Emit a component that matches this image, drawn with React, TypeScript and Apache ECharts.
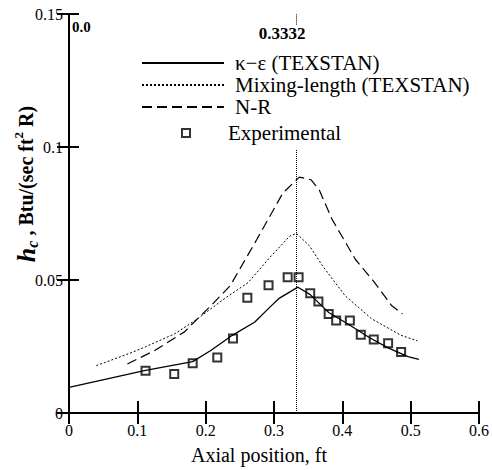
import React, { useEffect, useRef } from "react";
import * as echarts from "echarts";

const FONT = '"Liberation Serif", "Times New Roman", serif';

// k-epsilon (TEXSTAN) - solid line
const kEpsX = [0, 0.112, 0.181, 0.208, 0.239, 0.272, 0.294, 0.308, 0.335, 0.353, 0.38, 0.41, 0.44, 0.467, 0.496, 0.512];
const kEpsY = [0.0096, 0.016, 0.0193, 0.0236, 0.0292, 0.0342, 0.0398, 0.0432, 0.0473, 0.0445, 0.0378, 0.0332, 0.0283, 0.0245, 0.0212, 0.0202];

// Mixing-length (TEXSTAN) - dotted line
const mixX = [0.04, 0.0925, 0.112, 0.155, 0.188, 0.227, 0.262, 0.294, 0.323, 0.333, 0.352, 0.371, 0.404, 0.443, 0.486, 0.51];
const mixY = [0.0178, 0.0228, 0.0249, 0.0298, 0.0354, 0.0429, 0.049, 0.0585, 0.0665, 0.0675, 0.0628, 0.0553, 0.0441, 0.0354, 0.0292, 0.0271];

// N-R - dashed line
const nrX = [0.0855, 0.126, 0.169, 0.188, 0.208, 0.236, 0.275, 0.313, 0.337, 0.354, 0.366, 0.385, 0.419, 0.447, 0.472, 0.488];
const nrY = [0.0184, 0.0236, 0.0305, 0.0354, 0.0404, 0.0479, 0.0653, 0.0827, 0.0887, 0.0877, 0.084, 0.0728, 0.0578, 0.0491, 0.0404, 0.0373];

// Experimental - squares
const expX = [0.112, 0.154, 0.181, 0.217, 0.24, 0.261, 0.292, 0.32, 0.336, 0.353, 0.365, 0.38, 0.391, 0.411, 0.427, 0.446, 0.467, 0.486];
const expY = [0.0159, 0.0147, 0.0187, 0.0209, 0.028, 0.0433, 0.048, 0.051, 0.051, 0.045, 0.0419, 0.0372, 0.0348, 0.0348, 0.0294, 0.0276, 0.0262, 0.0229];

const SERIES_NAMES = ["κ−ε (TEXSTAN)", "Mixing-length (TEXSTAN)", "N-R", "Experimental"];
const MARK_X = 0.3332;
const X_RANGE = [0, 0.6, 0.1];
const Y_RANGE = [0, 0.15, 0.05];

const pairs = (xs: number[], ys: number[]) => xs.map((x, i) => [x, ys[i]]);

export default function App() {
  const ref = useRef<HTMLDivElement>(null);
  useEffect(() => {
    if (!ref.current) return;
    const chart = echarts.init(ref.current, undefined, { renderer: "svg" });
    const axisLine = { show: true, lineStyle: { color: "#000", width: 2 } };
    const tick = (len: number) => ({ show: true, inside: true, length: len, lineStyle: { color: "#000", width: 2 } });
    const lineText = { color: "#000", fontSize: 21, fontFamily: FONT, lineHeight: 22, padding: [0, 0, 0, 6] };
    chart.setOption({
      animation: false,
      backgroundColor: "#fff",
      grid: { left: 69, right: 7, top: 14, bottom: 55 },
      xAxis: [
        {
          type: "value", min: X_RANGE[0], max: X_RANGE[1], interval: X_RANGE[2], position: "bottom",
          axisLine, axisTick: tick(12), splitLine: { show: false },
          axisLabel: { color: "#000", fontSize: 16, fontFamily: FONT, margin: 9 },
          name: "Axial position, ft", nameLocation: "middle", nameGap: 32,
          nameTextStyle: { color: "#000", fontSize: 20, fontFamily: FONT, padding: [0, 30, 0, 0] },
        },
        {
          type: "value", min: X_RANGE[0], max: X_RANGE[1], interval: X_RANGE[2], position: "top",
          axisLine, axisTick: tick(11), splitLine: { show: false }, axisLabel: { show: false },
        },
      ],
      yAxis: [
        {
          type: "value", min: Y_RANGE[0], max: Y_RANGE[1], interval: Y_RANGE[2], position: "left",
          axisLine, axisTick: tick(10), splitLine: { show: false },
          axisLabel: { color: "#000", fontSize: 16, fontFamily: FONT, margin: 6 },
        },
        {
          type: "value", min: Y_RANGE[0], max: Y_RANGE[1], interval: Y_RANGE[2], position: "right",
          axisLine, axisTick: tick(12), splitLine: { show: false }, axisLabel: { show: false },
        },
      ],
      legend: [
        {
          data: SERIES_NAMES.slice(0, 3), orient: "vertical", left: 136, top: 47,
          itemWidth: 82, itemHeight: 12, itemGap: 0, selectedMode: false, textStyle: lineText,
          itemStyle: { opacity: 0 },
        },
        {
          data: [SERIES_NAMES[3]], orient: "vertical", left: 176, top: 117,
          itemWidth: 8, itemHeight: 8, selectedMode: false,
          textStyle: { ...lineText, padding: [0, 0, 0, 33] },
        },
      ],
      graphic: [
        {
          type: "text", x: 72, y: 27,
          style: { text: "0.0", fontSize: 15, fontWeight: "bold", fontFamily: FONT, fill: "#000", align: "left", verticalAlign: "middle" },
        },
        {
          type: "text", x: 282, y: 33,
          style: { text: String(MARK_X), fontSize: 17, fontWeight: "bold", fontFamily: FONT, fill: "#000", align: "center", verticalAlign: "middle" },
        },
        {
          type: "text", x: 26, y: 184, rotation: Math.PI / 2,
          style: {
            text: "{h|h}{c|c}{t| , Btu/(sec ft}{s|2}{t| R)}",
            align: "center", verticalAlign: "middle", fill: "#000",
            rich: {
              h: { fontSize: 26, fontStyle: "italic", fontWeight: "bold", fontFamily: FONT, lineHeight: 28 },
              c: { fontSize: 16, fontStyle: "italic", fontWeight: "bold", fontFamily: FONT, verticalAlign: "bottom", lineHeight: 16 },
              t: { fontSize: 20, fontWeight: "bold", fontFamily: FONT, lineHeight: 22 },
              s: { fontSize: 13, fontWeight: "bold", fontFamily: FONT, verticalAlign: "top", lineHeight: 13 },
            },
          },
        },
      ],
      series: [
        {
          name: SERIES_NAMES[0], type: "line", data: pairs(kEpsX, kEpsY), symbol: "none",
          itemStyle: { color: "#000" },
          lineStyle: { color: "#000", width: 1.3, type: "solid" },
          markLine: {
            silent: true, symbol: "none", label: { show: false },
            lineStyle: { color: "#000", width: 1, type: "dotted" },
            data: [
              [{ coord: [MARK_X, 0] }, { coord: [MARK_X, 0.099] }],
              [{ coord: [MARK_X, 0.146] }, { coord: [MARK_X, 0.15] }],
            ],
          },
        },
        {
          name: SERIES_NAMES[1], type: "line", data: pairs(mixX, mixY), symbol: "none",
          itemStyle: { color: "#000" },
          lineStyle: { color: "#000", width: 1, type: [2, 2] },
        },
        {
          name: SERIES_NAMES[2], type: "line", data: pairs(nrX, nrY), symbol: "none",
          itemStyle: { color: "#000" },
          lineStyle: { color: "#000", width: 1.2, type: [10, 5] },
        },
        {
          name: SERIES_NAMES[3], type: "scatter", data: pairs(expX, expY), symbol: "rect", symbolSize: 8,
          itemStyle: { color: "#fff", borderColor: "#000", borderWidth: 2 },
        },
      ],
    });
    return () => chart.dispose();
  }, []);
  return <div ref={ref} style={{ position: "fixed", left: 0, top: 0, width: 492, height: 470 }} />;
}
